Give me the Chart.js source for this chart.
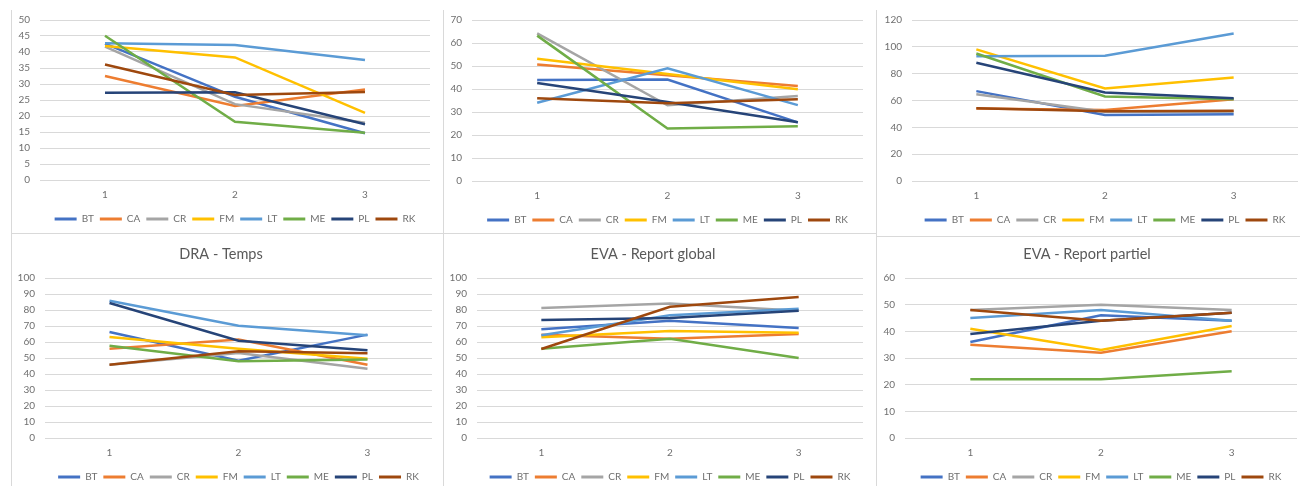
<!DOCTYPE html>
<html>
<head>
<meta charset="utf-8">
<script src="https://cdn.jsdelivr.net/npm/chart.js@4.4.1/dist/chart.umd.min.js"></script>
<style>
  html, body { margin: 0; padding: 0; background: #fff; overflow: hidden; }
  body { width: 1300px; height: 486px; position: relative; }
  .box { position: absolute; }
  .rule { position: absolute; background: #d9d9d9; }
</style>
</head>
<body>
<div class="rule" style="left:11px;top:10px;width:1px;height:476px"></div>
<div class="rule" style="left:443px;top:10px;width:1px;height:476px"></div>
<div class="rule" style="left:876px;top:10px;width:1px;height:476px"></div>
<div class="rule" style="left:11px;top:233px;width:865px;height:1px"></div>
<div class="rule" style="left:876px;top:236px;width:424px;height:1px"></div>

<div class="box" id="b1"><canvas id="c1"></canvas></div>
<div class="box" id="b2"><canvas id="c2"></canvas></div>
<div class="box" id="b3"><canvas id="c3"></canvas></div>
<div class="box" id="b4"><canvas id="c4"></canvas></div>
<div class="box" id="b5"><canvas id="c5"></canvas></div>
<div class="box" id="b6"><canvas id="c6"></canvas></div>

<script>
// categories + series names
const steps = ['1', '2', '3'];
const people = ['BT', 'CA', 'CR', 'FM', 'LT', 'ME', 'PL', 'RK'];
const colors = ['#4472C4', '#ED7D31', '#A5A5A5', '#FFC000', '#5B9BD5', '#70AD47', '#264478', '#9E480E'];

// one row per person (BT, CA, CR, FM, LT, ME, PL, RK)
const panel1 = [
    [42.6, 26, 14.6], [32.5, 23.1, 28.3], [41.7, 23.7, 17.9], [41.9, 38.3, 21],
    [42.7, 42.2, 37.5], [45.1, 18.2, 14.8], [27.3, 27.4, 17.4], [36.1, 26.6, 27.5]
];
const panel2 = [
    [43.9, 44.1, 25.5], [50.7, 46, 41.3], [64.2, 32.9, 37], [53.2, 46.5, 39.9],
    [34, 49, 33], [63.2, 22.8, 23.8], [42.6, 34.3, 25.5], [36, 33.8, 35.5]
];
const panel3 = [
    [67, 49.2, 49.7], [54, 53, 61], [64.6, 51.7, 51.7], [98.1, 69, 77.2],
    [93, 93.4, 110], [95, 63, 61], [88.2, 66, 61.6], [54.2, 52, 52.4]
];
const panel4 = [
    [66.2, 48.3, 64.6], [55.8, 61.5, 45.8], [45.8, 53.1, 43.3], [63.1, 55.8, 49.6],
    [85.8, 70.2, 64.2], [57.7, 47.9, 49], [84.4, 60.8, 54.8], [45.8, 54.2, 52.9]
];
const panel5 = [
    [67.9, 73.3, 68.7], [64.6, 62.1, 65], [81.2, 84, 79.6], [62.9, 66.9, 65.8],
    [64.2, 76.7, 80.8], [55.8, 62.1, 50], [73.7, 75, 79.6], [55.6, 82, 88.1]
];
const panel6 = [
    [36, 46, 44], [35, 32, 40], [48, 50, 48], [41, 33, 42],
    [45, 48, 44], [22, 22, 25], [39, 44, 47], [48, 44, 47]
];

const titles = ['', '', '', 'DRA - Temps', 'EVA - Report global', 'EVA - Report partiel'];
const yMax = [50, 70, 120, 100, 100, 60];
const yStep = [5, 10, 20, 10, 10, 10];

// where each chart sits on the page
const layout = [
    {left: 10, top: 10, width: 424, height: 224, yW: 30, padTop: 10, padRight: 4},
    {left: 443, top: 10, width: 424, height: 225, yW: 29, padTop: 10, padRight: 4},
    {left: 877, top: 10, width: 423, height: 225, yW: 35, padTop: 10, padRight: 2},
    {left: 10, top: 238, width: 426, height: 254, yW: 35, padTop: 0, padRight: 4},
    {left: 443, top: 238, width: 424, height: 254, yW: 34, padTop: 0, padRight: 4},
    {left: 877, top: 238, width: 423, height: 254, yW: 28, padTop: 0, padRight: 3}
];

const allPanels = [panel1, panel2, panel3, panel4, panel5, panel6];
const fontFamily = 'Lato, "Liberation Sans", sans-serif';
const textColor = '#6f6f6f';
const gridColor = '#d9d9d9';

function makeChart(i) {
    const box = document.getElementById('b' + (i + 1));
    const lay = layout[i];
    box.style.left = lay.left + 'px';
    box.style.top = lay.top + 'px';
    box.style.width = lay.width + 'px';
    box.style.height = lay.height + 'px';

    const datasets = people.map((name, k) => ({
        label: name,
        data: allPanels[i][k],
        borderColor: colors[k],
        backgroundColor: colors[k],
        borderWidth: 2.5,
        pointRadius: 0,
        tension: 0,
        order: people.length - k
    }));

    new Chart(document.getElementById('c' + (i + 1)), {
        type: 'line',
        data: { labels: steps, datasets: datasets },
        options: {
            responsive: true,
            maintainAspectRatio: false,
            animation: false,
            layout: { padding: { top: lay.padTop, right: lay.padRight, left: 0, bottom: 0 } },
            plugins: {
                title: {
                    display: titles[i] !== '',
                    text: titles[i],
                    color: '#595959',
                    font: { family: fontFamily, size: 14.5, weight: 'normal' },
                    padding: { top: 7.3, bottom: 15.3 }
                },
                legend: {
                    position: 'bottom',
                    fullSize: false,
                    labels: {
                        color: textColor,
                        font: { family: fontFamily, size: 10 },
                        boxWidth: 22,
                        boxHeight: 3,
                        padding: 6,
                        sort: (a, b) => a.datasetIndex - b.datasetIndex,
                        generateLabels: chart => Chart.defaults.plugins.legend.labels.generateLabels(chart)
                            .map(l => Object.assign(l, { lineWidth: 0, strokeStyle: 'rgba(0,0,0,0)' }))
                    }
                },
                tooltip: { enabled: false }
            },
            scales: {
                x: {
                    offset: true,
                    grid: { display: false, drawTicks: false },
                    border: { display: false },
                    ticks: { color: textColor, font: { family: fontFamily, size: 10 }, padding: 9 },
                    afterFit: scale => { scale.height = 28; }
                },
                y: {
                    min: 0,
                    max: yMax[i],
                    grid: { color: gridColor, drawTicks: true, tickLength: 8, tickColor: 'rgba(0,0,0,0)' },
                    border: { display: false },
                    ticks: { stepSize: yStep[i], color: textColor, font: { family: fontFamily, size: 10 }, padding: 2 },
                    afterFit: scale => { scale.width = lay.yW; }
                }
            }
        }
    });
}

for (let i = 0; i < 6; i++) makeChart(i);
</script>
</body>
</html>
